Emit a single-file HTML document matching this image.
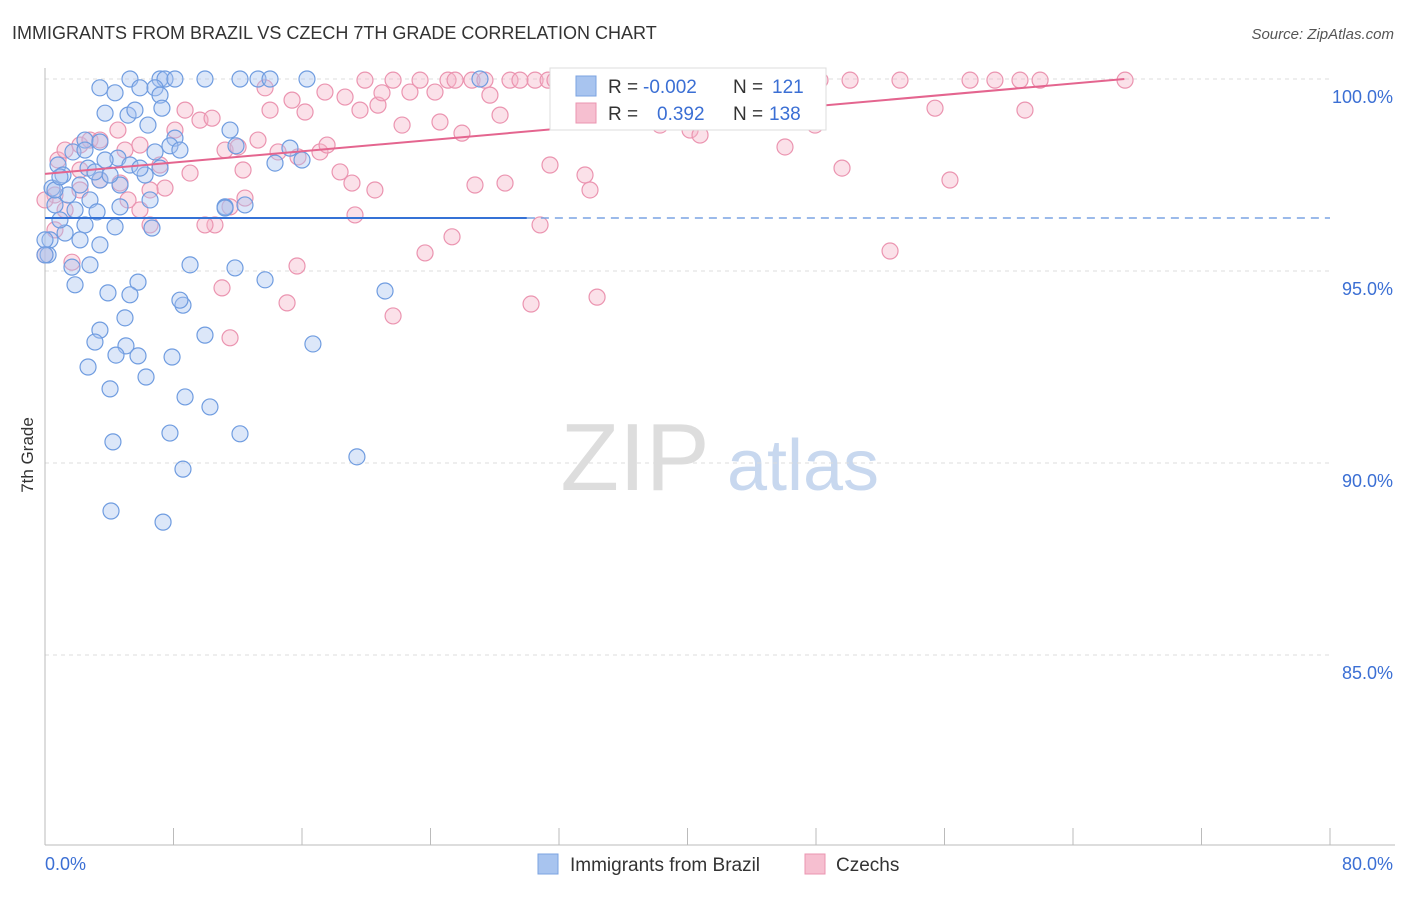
<!DOCTYPE html>
<html><head><meta charset="utf-8"><style>
body{margin:0;background:#fff;font-family:"Liberation Sans",sans-serif;}
svg text{font-family:"Liberation Sans",sans-serif;}
</style></head><body>
<svg id="chart" width="1406" height="892" xmlns="http://www.w3.org/2000/svg">
<text x="12" y="39" font-size="18" fill="#333">IMMIGRANTS FROM BRAZIL VS CZECH 7TH GRADE CORRELATION CHART</text>
<text x="1394" y="39" font-size="15" fill="#555" text-anchor="end" font-style="italic">Source: ZipAtlas.com</text>
<text transform="translate(33,455) rotate(-90)" font-size="17" fill="#333" text-anchor="middle">7th Grade</text>
<g>
<text x="635" y="490" font-size="96" fill="#ddd" text-anchor="middle" font-family="Liberation Serif">ZIP</text>
<text x="803" y="490" font-size="72" fill="#c8d8ef" text-anchor="middle">atlas</text>
</g>
<g id="grid"></g><g id="marks"></g>
<g>
<rect x="550" y="68" width="276" height="62" fill="#fff" stroke="#ddd"/>
<rect x="576" y="76" width="20" height="20" fill="#a8c4ef" stroke="#7ba3e0"/>
<text x="608" y="93" font-size="19" fill="#333">R =</text>
<text x="643" y="93" font-size="19" fill="#3b6fd4">-0.002</text>
<text x="733" y="93" font-size="19" fill="#333">N =</text>
<text x="772" y="93" font-size="19" fill="#3b6fd4">121</text>
<rect x="576" y="103" width="20" height="20" fill="#f6bfd0" stroke="#eb94b0"/>
<text x="608" y="120" font-size="19" fill="#333">R =</text>
<text x="657" y="120" font-size="19" fill="#3b6fd4">0.392</text>
<text x="733" y="120" font-size="19" fill="#333">N =</text>
<text x="769" y="120" font-size="19" fill="#3b6fd4">138</text>
</g>
<g>
<rect x="538" y="854" width="20" height="20" fill="#a8c4ef" stroke="#7ba3e0"/>
<text x="570" y="871" font-size="19" fill="#333">Immigrants from Brazil</text>
<rect x="805" y="854" width="20" height="20" fill="#f6bfd0" stroke="#eb94b0"/>
<text x="836" y="871" font-size="19" fill="#333">Czechs</text>
</g>
</svg>
<script>
const yTicks=[100,95,90,85];
const xTickLabels=["0.0%","80.0%"];
const bluePx=[[130,79],[160,79],[165,79],[175,79],[205,79],[240,79],[258,79],[270,79],[307,79],[480,79],[100,88],[115,93],[140,88],[155,88],[160,95],[105,113],[128,115],[162,108],[135,110],[148,125],[230,130],[175,138],[85,140],[100,142],[170,146],[236,146],[290,148],[73,152],[118,158],[155,152],[180,150],[58,165],[88,168],[105,160],[130,165],[160,168],[275,163],[302,160],[63,175],[80,185],[100,180],[120,185],[145,175],[52,188],[68,195],[90,200],[120,207],[150,200],[55,205],[75,210],[97,212],[225,207],[245,205],[85,225],[115,227],[152,228],[50,240],[65,233],[80,240],[100,245],[48,255],[72,267],[90,265],[190,265],[235,268],[75,285],[108,293],[138,282],[130,295],[265,280],[385,291],[183,305],[125,318],[100,330],[95,342],[126,346],[205,335],[313,344],[88,367],[116,355],[138,356],[172,357],[110,389],[146,377],[185,397],[210,407],[113,442],[170,433],[240,434],[357,457],[183,469],[111,511],[163,522],[55,190],[60,177],[45,240],[45,255],[60,220],[85,150],[95,172],[110,175],[140,168],[225,208],[180,300]];
const pinkPx=[[45,255],[55,230],[58,160],[65,150],[80,145],[90,140],[100,140],[118,130],[125,150],[140,145],[160,165],[175,130],[185,110],[200,120],[212,118],[225,150],[238,147],[258,140],[265,88],[270,110],[292,100],[305,112],[325,92],[345,97],[360,110],[365,80],[378,105],[382,93],[393,80],[402,125],[410,92],[420,80],[435,92],[440,122],[448,80],[455,80],[462,133],[472,80],[485,80],[490,95],[500,115],[510,80],[520,80],[535,80],[548,80],[555,80],[575,80],[600,80],[620,80],[640,80],[665,80],[690,80],[710,80],[735,80],[760,80],[780,80],[800,80],[820,80],[850,80],[900,80],[970,80],[995,80],[1020,80],[1040,80],[1125,80],[590,95],[610,110],[630,100],[660,125],[690,130],[700,135],[740,110],[760,115],[780,105],[815,125],[935,108],[1025,110],[785,147],[550,165],[585,175],[590,190],[842,168],[950,180],[475,185],[505,183],[375,190],[352,183],[340,172],[320,152],[298,157],[278,152],[243,170],[245,198],[190,173],[165,188],[150,190],[140,210],[128,200],[120,183],[100,180],[80,190],[55,195],[65,210],[80,170],[215,225],[230,207],[205,225],[327,145],[355,215],[425,253],[452,237],[540,225],[890,251],[297,266],[222,288],[287,303],[393,316],[531,304],[597,297],[230,338],[150,225],[72,262],[45,200]];
const brazilX=bluePx.map(p=>+((p[0]-45)*80/1285).toFixed(2));
const brazilY=bluePx.map(p=>+(100-(p[1]-79)*5/192).toFixed(2));
const czechX=pinkPx.map(p=>+((p[0]-45)*80/1285).toFixed(2));
const czechY=pinkPx.map(p=>+(100-(p[1]-79)*5/192).toFixed(2));
const brazilTrend=[96.38,96.38];
const czechTrend=[97.53,100];

const NS="http://www.w3.org/2000/svg";
const X=v=>45+v*1285/80, Y=v=>79+(100-v)*192/5;
function mk(t,a,p){const e=document.createElementNS(NS,t);for(const k in a)e.setAttribute(k,a[k]);p.appendChild(e);return e;}
const grid=document.getElementById('grid'),marks=document.getElementById('marks');
yTicks.forEach(t=>{
 const l=mk('line',{x1:45,x2:1330,y1:Y(t),y2:Y(t),stroke:'#ddd','stroke-dasharray':'4,4'},grid);
 
 
 const tx=mk('text',{x:1393,y:Y(t)+24,'font-size':18,fill:'#3b6fd4','text-anchor':'end'},grid);
 tx.textContent=t.toFixed(1)+'%';
 
 
});
const ax=mk('line',{x1:45,x2:45,y1:68,y2:845,stroke:'#bbb'},grid);


const xa=mk('line',{x1:45,x2:1395,y1:845,y2:845,stroke:'#bbb'},grid);


for(let i=0;i<=10;i++){const t=mk('line',{x1:X(i*8),x2:X(i*8),y1:828,y2:845,stroke:'#bbb'},grid);
 
 }
[[0,45,'start'],[1,1393,'end']].forEach(([i,x,a])=>{const t=mk('text',{x:x,y:870,'font-size':18,fill:'#3b6fd4','text-anchor':a},grid);t.textContent=xTickLabels[i];
 
 });
function dots(xs,ys,fill,stroke,name){xs.forEach((x,i)=>{const c=mk('circle',{cx:X(x),cy:Y(ys[i]),r:8,fill:fill,'fill-opacity':0.4,stroke:stroke,'stroke-width':1.2},marks);
 
 });}
dots(czechX,czechY,'#f6b4c8','#eb94b0','czech-point');
dots(brazilX,brazilY,'#a8c4ef','#6f9ce0','brazil-point');
let l1=mk('line',{x1:X(0),x2:X(30),y1:Y(brazilTrend[0]),y2:Y(brazilTrend[0]),stroke:'#3572d6','stroke-width':2},marks);


let l2=mk('line',{x1:X(30),x2:X(80),y1:Y(brazilTrend[0]),y2:Y(brazilTrend[1]),stroke:'#7aa3e3','stroke-width':1.5,'stroke-dasharray':'8,6'},marks);


let l3=mk('line',{x1:X(0),x2:X(67.2),y1:Y(czechTrend[0]),y2:Y(czechTrend[1]),stroke:'#e4658f','stroke-width':2},marks);


</script>
</body></html>
